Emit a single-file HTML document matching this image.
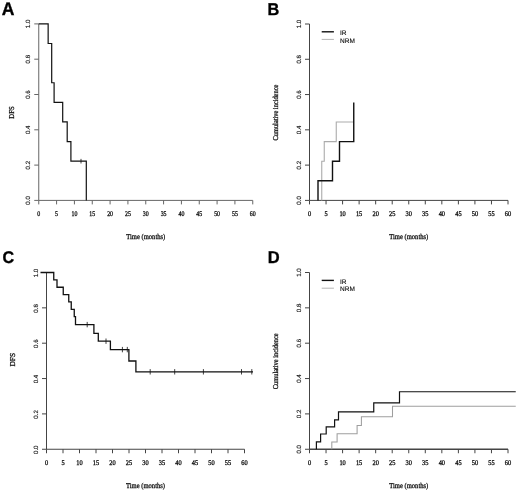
<!DOCTYPE html><html><head><meta charset="utf-8"><title>Figure</title><style>html,body{margin:0;padding:0;background:#fff}svg{display:block;filter:blur(0.4px)}text{font-family:"Liberation Serif",serif;fill:#111;stroke:#111;stroke-width:0.3px;text-rendering:geometricPrecision}.s{font-family:"Liberation Sans",sans-serif;stroke-width:0.12px}.b{font-family:"Liberation Sans",sans-serif;font-weight:bold;fill:#000;stroke:#000;stroke-width:0.35px}</style></head><body>
<svg width="520" height="491" viewBox="0 0 520 491">
<rect width="520" height="491" fill="#fff"/>
<g stroke="#666" stroke-width="1.0" fill="none">
<path d="M38.75,23.9 V200.4"/>
<path d="M38.75,200.4 H252.75" stroke-width="1.0"/>
<path d="M38.75,200.4 v4"/>
<path d="M56.58,200.4 v4"/>
<path d="M74.42,200.4 v4"/>
<path d="M92.25,200.4 v4"/>
<path d="M110.08,200.4 v4"/>
<path d="M127.92,200.4 v4"/>
<path d="M145.75,200.4 v4"/>
<path d="M163.58,200.4 v4"/>
<path d="M181.42,200.4 v4"/>
<path d="M199.25,200.4 v4"/>
<path d="M217.08,200.4 v4"/>
<path d="M234.92,200.4 v4"/>
<path d="M252.75,200.4 v4"/>
<path d="M38.75,200.40 h-4.5"/>
<path d="M38.75,165.10 h-4.5"/>
<path d="M38.75,129.80 h-4.5"/>
<path d="M38.75,94.50 h-4.5"/>
<path d="M38.75,59.20 h-4.5"/>
<path d="M38.75,23.90 h-4.5"/>
</g>
<text transform="translate(38.75,216.0) scale(0.83,1)" font-size="7.1" text-anchor="middle">0</text>
<text transform="translate(56.58,216.0) scale(0.83,1)" font-size="7.1" text-anchor="middle">5</text>
<text transform="translate(74.42,216.0) scale(0.83,1)" font-size="7.1" text-anchor="middle">10</text>
<text transform="translate(92.25,216.0) scale(0.83,1)" font-size="7.1" text-anchor="middle">15</text>
<text transform="translate(110.08,216.0) scale(0.83,1)" font-size="7.1" text-anchor="middle">20</text>
<text transform="translate(127.92,216.0) scale(0.83,1)" font-size="7.1" text-anchor="middle">25</text>
<text transform="translate(145.75,216.0) scale(0.83,1)" font-size="7.1" text-anchor="middle">30</text>
<text transform="translate(163.58,216.0) scale(0.83,1)" font-size="7.1" text-anchor="middle">35</text>
<text transform="translate(181.42,216.0) scale(0.83,1)" font-size="7.1" text-anchor="middle">40</text>
<text transform="translate(199.25,216.0) scale(0.83,1)" font-size="7.1" text-anchor="middle">45</text>
<text transform="translate(217.08,216.0) scale(0.83,1)" font-size="7.1" text-anchor="middle">50</text>
<text transform="translate(234.92,216.0) scale(0.83,1)" font-size="7.1" text-anchor="middle">55</text>
<text transform="translate(252.75,216.0) scale(0.83,1)" font-size="7.1" text-anchor="middle">60</text>
<text class="s" transform="translate(30.45,200.40) rotate(-90)" font-size="6.2" text-anchor="middle">0.0</text>
<text class="s" transform="translate(30.45,165.10) rotate(-90)" font-size="6.2" text-anchor="middle">0.2</text>
<text class="s" transform="translate(30.45,129.80) rotate(-90)" font-size="6.2" text-anchor="middle">0.4</text>
<text class="s" transform="translate(30.45,94.50) rotate(-90)" font-size="6.2" text-anchor="middle">0.6</text>
<text class="s" transform="translate(30.45,59.20) rotate(-90)" font-size="6.2" text-anchor="middle">0.8</text>
<text class="s" transform="translate(30.45,23.90) rotate(-90)" font-size="6.2" text-anchor="middle">1.0</text>
<text transform="translate(145.75,238.7) scale(0.875,1)" font-size="7.5" text-anchor="middle">Time (months)</text>
<text transform="translate(14.1,112.45) rotate(-90) scale(0.9,1)" font-size="7.5" text-anchor="middle">DFS</text>
<text class="b" transform="translate(1.8,14.9) scale(0.96,1)" font-size="18.3">A</text>
<path d="M38.75,23.90 L48.15,23.90 L48.15,43.51 L51.70,43.51 L51.70,82.73 L54.10,82.73 L54.10,102.34 L62.70,102.34 L62.70,121.96 L67.20,121.96 L67.20,141.57 L70.90,141.57 L70.90,161.18 L86.30,161.18 L86.30,200.40" stroke="#111" stroke-width="1.2" fill="none"/>
<path d="M81,158.88 v4.6" stroke="#111" stroke-width="0.8"/>
<g stroke="#444" stroke-width="1.0" fill="none">
<path d="M309.5,24.0 V200.4"/>
<path d="M309.5,200.4 H508" stroke-width="1.0"/>
<path d="M309.50,200.4 v4"/>
<path d="M326.04,200.4 v4"/>
<path d="M342.58,200.4 v4"/>
<path d="M359.12,200.4 v4"/>
<path d="M375.67,200.4 v4"/>
<path d="M392.21,200.4 v4"/>
<path d="M408.75,200.4 v4"/>
<path d="M425.29,200.4 v4"/>
<path d="M441.83,200.4 v4"/>
<path d="M458.38,200.4 v4"/>
<path d="M474.92,200.4 v4"/>
<path d="M491.46,200.4 v4"/>
<path d="M508.00,200.4 v4"/>
<path d="M309.5,200.40 h-4.5"/>
<path d="M309.5,165.12 h-4.5"/>
<path d="M309.5,129.84 h-4.5"/>
<path d="M309.5,94.56 h-4.5"/>
<path d="M309.5,59.28 h-4.5"/>
<path d="M309.5,24.00 h-4.5"/>
</g>
<text transform="translate(309.50,216.0) scale(0.9,1)" font-size="7.1" text-anchor="middle">0</text>
<text transform="translate(326.04,216.0) scale(0.9,1)" font-size="7.1" text-anchor="middle">5</text>
<text transform="translate(342.58,216.0) scale(0.9,1)" font-size="7.1" text-anchor="middle">10</text>
<text transform="translate(359.12,216.0) scale(0.9,1)" font-size="7.1" text-anchor="middle">15</text>
<text transform="translate(375.67,216.0) scale(0.9,1)" font-size="7.1" text-anchor="middle">20</text>
<text transform="translate(392.21,216.0) scale(0.9,1)" font-size="7.1" text-anchor="middle">25</text>
<text transform="translate(408.75,216.0) scale(0.9,1)" font-size="7.1" text-anchor="middle">30</text>
<text transform="translate(425.29,216.0) scale(0.9,1)" font-size="7.1" text-anchor="middle">35</text>
<text transform="translate(441.83,216.0) scale(0.9,1)" font-size="7.1" text-anchor="middle">40</text>
<text transform="translate(458.38,216.0) scale(0.9,1)" font-size="7.1" text-anchor="middle">45</text>
<text transform="translate(474.92,216.0) scale(0.9,1)" font-size="7.1" text-anchor="middle">50</text>
<text transform="translate(491.46,216.0) scale(0.9,1)" font-size="7.1" text-anchor="middle">55</text>
<text transform="translate(508.00,216.0) scale(0.9,1)" font-size="7.1" text-anchor="middle">60</text>
<text class="s" transform="translate(301.2,200.40) rotate(-90)" font-size="6.2" text-anchor="middle">0.0</text>
<text class="s" transform="translate(301.2,165.12) rotate(-90)" font-size="6.2" text-anchor="middle">0.2</text>
<text class="s" transform="translate(301.2,129.84) rotate(-90)" font-size="6.2" text-anchor="middle">0.4</text>
<text class="s" transform="translate(301.2,94.56) rotate(-90)" font-size="6.2" text-anchor="middle">0.6</text>
<text class="s" transform="translate(301.2,59.28) rotate(-90)" font-size="6.2" text-anchor="middle">0.8</text>
<text class="s" transform="translate(301.2,24.00) rotate(-90)" font-size="6.2" text-anchor="middle">1.0</text>
<text transform="translate(408.75,238.7) scale(0.875,1)" font-size="7.5" text-anchor="middle">Time (months)</text>
<text transform="translate(278.3,112.60) rotate(-90) scale(0.85,1)" font-size="7.5" text-anchor="middle">Cumulative incidence</text>
<text class="b" transform="translate(267.5,14.9) scale(0.96,1)" font-size="17.0">B</text>
<path d="M321.75,200.40 L321.75,200.40 L321.75,161.20 L324.25,161.20 L324.25,141.60 L336.25,141.60 L336.25,122.00 L353.75,122.00" stroke="#ababab" stroke-width="1.1" fill="none"/>
<path d="M318.00,200.40 L318.00,200.40 L318.00,180.80 L332.50,180.80 L332.50,161.20 L339.50,161.20 L339.50,141.60 L353.75,141.60 L353.75,102.40" stroke="#111" stroke-width="1.4" fill="none"/>
<path d="M321.7,31.8 h12.2" stroke="#111" stroke-width="1.4"/>
<path d="M321.7,39.4 h12.2" stroke="#b4b4b4" stroke-width="1"/>
<text class="s" x="340.0" y="34.9" font-size="6.5">IR</text>
<text class="s" x="340.0" y="42.5" font-size="6.5">NRM</text>
<g stroke="#444" stroke-width="1.0" fill="none">
<path d="M46.5,272.5 V449.25"/>
<path d="M46.5,449.25 H244.5" stroke-width="1.2"/>
<path d="M46.50,449.25 v4"/>
<path d="M63.00,449.25 v4"/>
<path d="M79.50,449.25 v4"/>
<path d="M96.00,449.25 v4"/>
<path d="M112.50,449.25 v4"/>
<path d="M129.00,449.25 v4"/>
<path d="M145.50,449.25 v4"/>
<path d="M162.00,449.25 v4"/>
<path d="M178.50,449.25 v4"/>
<path d="M195.00,449.25 v4"/>
<path d="M211.50,449.25 v4"/>
<path d="M228.00,449.25 v4"/>
<path d="M244.50,449.25 v4"/>
<path d="M46.5,449.25 h-4.5"/>
<path d="M46.5,413.90 h-4.5"/>
<path d="M46.5,378.55 h-4.5"/>
<path d="M46.5,343.20 h-4.5"/>
<path d="M46.5,307.85 h-4.5"/>
<path d="M46.5,272.50 h-4.5"/>
</g>
<text transform="translate(46.50,464.85) scale(0.9,1)" font-size="7.1" text-anchor="middle">0</text>
<text transform="translate(63.00,464.85) scale(0.9,1)" font-size="7.1" text-anchor="middle">5</text>
<text transform="translate(79.50,464.85) scale(0.9,1)" font-size="7.1" text-anchor="middle">10</text>
<text transform="translate(96.00,464.85) scale(0.9,1)" font-size="7.1" text-anchor="middle">15</text>
<text transform="translate(112.50,464.85) scale(0.9,1)" font-size="7.1" text-anchor="middle">20</text>
<text transform="translate(129.00,464.85) scale(0.9,1)" font-size="7.1" text-anchor="middle">25</text>
<text transform="translate(145.50,464.85) scale(0.9,1)" font-size="7.1" text-anchor="middle">30</text>
<text transform="translate(162.00,464.85) scale(0.9,1)" font-size="7.1" text-anchor="middle">35</text>
<text transform="translate(178.50,464.85) scale(0.9,1)" font-size="7.1" text-anchor="middle">40</text>
<text transform="translate(195.00,464.85) scale(0.9,1)" font-size="7.1" text-anchor="middle">45</text>
<text transform="translate(211.50,464.85) scale(0.9,1)" font-size="7.1" text-anchor="middle">50</text>
<text transform="translate(228.00,464.85) scale(0.9,1)" font-size="7.1" text-anchor="middle">55</text>
<text transform="translate(244.50,464.85) scale(0.9,1)" font-size="7.1" text-anchor="middle">60</text>
<text class="s" transform="translate(38.2,449.75) rotate(-90)" font-size="6.2" text-anchor="middle">0.0</text>
<text class="s" transform="translate(38.2,414.40) rotate(-90)" font-size="6.2" text-anchor="middle">0.2</text>
<text class="s" transform="translate(38.2,379.05) rotate(-90)" font-size="6.2" text-anchor="middle">0.4</text>
<text class="s" transform="translate(38.2,343.70) rotate(-90)" font-size="6.2" text-anchor="middle">0.6</text>
<text class="s" transform="translate(38.2,308.35) rotate(-90)" font-size="6.2" text-anchor="middle">0.8</text>
<text class="s" transform="translate(38.2,273.00) rotate(-90)" font-size="6.2" text-anchor="middle">1.0</text>
<text transform="translate(145.50,487.55) scale(0.875,1)" font-size="7.5" text-anchor="middle">Time (months)</text>
<text transform="translate(15.2,359.68) rotate(-90) scale(1.0,1)" font-size="7.5" text-anchor="middle">DFS</text>
<text class="b" transform="translate(2.6,263.1) scale(0.96,1)" font-size="16.8">C</text>
<path d="M40.50,272.50 L53.75,272.50 L53.75,279.86 L57.00,279.86 L57.00,287.23 L63.25,287.23 L63.25,294.59 L68.75,294.59 L68.75,301.96 L71.25,301.96 L71.25,309.32 L74.25,309.32 L74.25,316.69 L75.50,316.69 L75.50,324.60 L93.90,324.60 L93.90,333.30 L98.30,333.30 L98.30,341.20 L110.40,341.20 L110.40,349.60 L128.90,349.60 L128.90,361.00 L135.90,361.00 L135.90,371.80 L253.00,371.80" stroke="#111" stroke-width="1.3" fill="none"/>
<path d="M87.2,321.90000000000003 v5.4" stroke="#111" stroke-width="0.8"/>
<path d="M106,338.5 v5.4" stroke="#111" stroke-width="0.8"/>
<path d="M122.4,346.90000000000003 v5.4" stroke="#111" stroke-width="0.8"/>
<path d="M127.3,346.90000000000003 v5.4" stroke="#111" stroke-width="0.8"/>
<path d="M150.2,369.1 v5.4" stroke="#111" stroke-width="0.8"/>
<path d="M174.7,369.1 v5.4" stroke="#111" stroke-width="0.8"/>
<path d="M203.4,369.1 v5.4" stroke="#111" stroke-width="0.8"/>
<path d="M241.5,369.1 v5.4" stroke="#111" stroke-width="0.8"/>
<path d="M251.8,369.1 v5.4" stroke="#111" stroke-width="0.8"/>
<g stroke="#444" stroke-width="1.0" fill="none">
<path d="M309.5,272.5 V449.25"/>
<path d="M309.5,449.25 H508" stroke-width="1.3"/>
<path d="M309.50,449.25 v4"/>
<path d="M326.04,449.25 v4"/>
<path d="M342.58,449.25 v4"/>
<path d="M359.12,449.25 v4"/>
<path d="M375.67,449.25 v4"/>
<path d="M392.21,449.25 v4"/>
<path d="M408.75,449.25 v4"/>
<path d="M425.29,449.25 v4"/>
<path d="M441.83,449.25 v4"/>
<path d="M458.38,449.25 v4"/>
<path d="M474.92,449.25 v4"/>
<path d="M491.46,449.25 v4"/>
<path d="M508.00,449.25 v4"/>
<path d="M309.5,449.25 h-4.5"/>
<path d="M309.5,413.90 h-4.5"/>
<path d="M309.5,378.55 h-4.5"/>
<path d="M309.5,343.20 h-4.5"/>
<path d="M309.5,307.85 h-4.5"/>
<path d="M309.5,272.50 h-4.5"/>
</g>
<text transform="translate(309.50,464.85) scale(0.9,1)" font-size="7.1" text-anchor="middle">0</text>
<text transform="translate(326.04,464.85) scale(0.9,1)" font-size="7.1" text-anchor="middle">5</text>
<text transform="translate(342.58,464.85) scale(0.9,1)" font-size="7.1" text-anchor="middle">10</text>
<text transform="translate(359.12,464.85) scale(0.9,1)" font-size="7.1" text-anchor="middle">15</text>
<text transform="translate(375.67,464.85) scale(0.9,1)" font-size="7.1" text-anchor="middle">20</text>
<text transform="translate(392.21,464.85) scale(0.9,1)" font-size="7.1" text-anchor="middle">25</text>
<text transform="translate(408.75,464.85) scale(0.9,1)" font-size="7.1" text-anchor="middle">30</text>
<text transform="translate(425.29,464.85) scale(0.9,1)" font-size="7.1" text-anchor="middle">35</text>
<text transform="translate(441.83,464.85) scale(0.9,1)" font-size="7.1" text-anchor="middle">40</text>
<text transform="translate(458.38,464.85) scale(0.9,1)" font-size="7.1" text-anchor="middle">45</text>
<text transform="translate(474.92,464.85) scale(0.9,1)" font-size="7.1" text-anchor="middle">50</text>
<text transform="translate(491.46,464.85) scale(0.9,1)" font-size="7.1" text-anchor="middle">55</text>
<text transform="translate(508.00,464.85) scale(0.9,1)" font-size="7.1" text-anchor="middle">60</text>
<text class="s" transform="translate(301.2,449.25) rotate(-90)" font-size="6.2" text-anchor="middle">0.0</text>
<text class="s" transform="translate(301.2,413.90) rotate(-90)" font-size="6.2" text-anchor="middle">0.2</text>
<text class="s" transform="translate(301.2,378.55) rotate(-90)" font-size="6.2" text-anchor="middle">0.4</text>
<text class="s" transform="translate(301.2,343.20) rotate(-90)" font-size="6.2" text-anchor="middle">0.6</text>
<text class="s" transform="translate(301.2,307.85) rotate(-90)" font-size="6.2" text-anchor="middle">0.8</text>
<text class="s" transform="translate(301.2,272.50) rotate(-90)" font-size="6.2" text-anchor="middle">1.0</text>
<text transform="translate(408.75,487.55) scale(0.875,1)" font-size="7.5" text-anchor="middle">Time (months)</text>
<text transform="translate(278.3,361.27) rotate(-90) scale(0.85,1)" font-size="7.5" text-anchor="middle">Cumulative incidence</text>
<text class="b" transform="translate(267.8,263.1) scale(0.96,1)" font-size="17.2">D</text>
<path d="M331.80,449.25 L331.80,449.25 L331.80,441.90 L337.10,441.90 L337.10,433.80 L357.10,433.80 L357.10,425.50 L361.40,425.50 L361.40,416.80 L392.50,416.80 L392.50,406.20 L515.75,406.20" stroke="#9e9e9e" stroke-width="1.05" fill="none"/>
<path d="M316.40,449.25 L316.40,449.25 L316.40,441.90 L320.60,441.90 L320.60,434.00 L326.20,434.00 L326.20,426.90 L334.60,426.90 L334.60,419.80 L338.50,419.80 L338.50,411.80 L373.75,411.80 L373.75,402.80 L399.50,402.80 L399.50,391.75 L515.75,391.75" stroke="#111" stroke-width="1.2" fill="none"/>
<path d="M321.7,280.4 h12.2" stroke="#111" stroke-width="1.4"/>
<path d="M321.7,288.2 h12.2" stroke="#b4b4b4" stroke-width="1"/>
<text class="s" x="340.0" y="283.5" font-size="6.5">IR</text>
<text class="s" x="340.0" y="291.3" font-size="6.5">NRM</text>
</svg></body></html>
